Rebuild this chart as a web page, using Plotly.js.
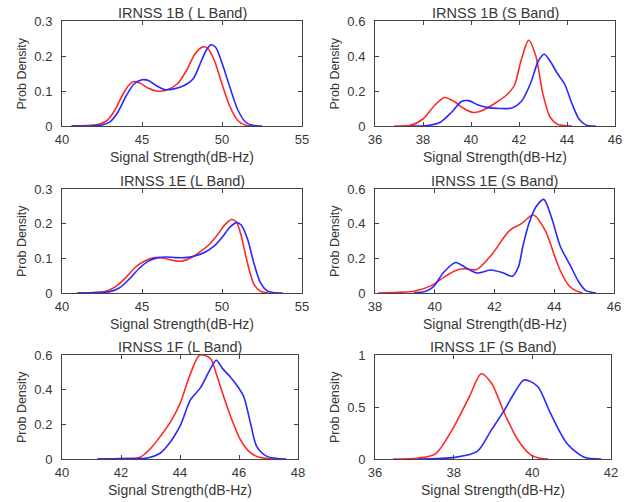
<!DOCTYPE html>
<html>
<head>
<meta charset="utf-8">
<script src="https://cdn.plot.ly/plotly-3.0.1.min.js"></script>
<style>html,body{margin:0;padding:0;background:#fff;}#chart{width:626px;height:502px;}</style>
</head>
<body>
<div id="chart"></div>
<script>
// ---- data ----
var titles = ["IRNSS 1B ( L Band)", "IRNSS 1B (S Band)", "IRNSS 1E (L Band)", "IRNSS 1E (S Band)", "IRNSS 1F (L Band)", "IRNSS 1F (S Band)"];
var xAxisTitle = "Signal Strength(dB-Hz)";
var yAxisTitle = "Prob Density";

var x1B_L_red = [40.6,41.5,42.2,42.8,43.3,43.8,44.2,44.5,44.9,45.4,45.9,46.5,47.2,47.8,48.3,48.8,49.1,49.5,50.0,50.5,51.0,51.5,52.0];
var y1B_L_red = [0,0.001,0.004,0.015,0.045,0.09,0.118,0.127,0.122,0.108,0.100,0.102,0.120,0.160,0.205,0.226,0.222,0.190,0.120,0.055,0.015,0.002,0];
var x1B_L_blue = [40.6,41.5,42.5,43.0,43.5,44.0,44.5,45.0,45.4,45.9,46.4,47.0,47.6,48.2,48.7,49.0,49.3,49.6,50.0,50.5,51.0,51.5,52.0,52.5];
var y1B_L_blue = [0,0,0.003,0.012,0.04,0.085,0.12,0.132,0.130,0.115,0.104,0.106,0.115,0.135,0.185,0.215,0.232,0.225,0.18,0.11,0.045,0.01,0.001,0];

var x1B_S_red = [36.8,37.5,38.0,38.5,38.9,39.3,39.7,40.1,40.5,41.0,41.5,41.8,42.1,42.4,42.7,43.0,43.3,43.6,44.0,44.2];
var y1B_S_red = [0,0.005,0.04,0.12,0.163,0.14,0.10,0.077,0.09,0.13,0.18,0.23,0.38,0.49,0.40,0.18,0.05,0.01,0.001,0];
var x1B_S_blue = [37.5,38.2,38.7,39.2,39.6,39.9,40.3,40.7,41.2,41.7,42.1,42.5,42.8,43.05,43.3,43.6,43.9,44.2,44.5,44.8,45.2];
var y1B_S_blue = [0,0.003,0.02,0.08,0.14,0.145,0.12,0.105,0.10,0.103,0.14,0.25,0.37,0.41,0.37,0.30,0.24,0.13,0.04,0.005,0];

var x1E_L_red = [40.9,42.0,42.8,43.4,44.0,44.6,45.2,45.8,46.4,47.0,47.5,48.0,48.6,49.2,49.7,50.2,50.6,50.9,51.2,51.6,52.0,52.4,52.9];
var y1E_L_red = [0,0.001,0.006,0.02,0.045,0.075,0.093,0.102,0.100,0.093,0.092,0.100,0.118,0.14,0.167,0.198,0.212,0.205,0.165,0.085,0.025,0.005,0];
var x1E_L_blue = [41.0,42.2,43.0,43.6,44.2,44.8,45.4,46.0,46.5,47.1,47.7,48.3,48.9,49.5,50.0,50.5,50.9,51.2,51.6,52.0,52.4,52.8,53.2,53.8];
var y1E_L_blue = [0,0.001,0.004,0.015,0.04,0.07,0.092,0.102,0.104,0.102,0.102,0.107,0.117,0.135,0.16,0.19,0.203,0.196,0.155,0.085,0.03,0.007,0.001,0];

var x1E_S_red = [38.1,38.8,39.3,39.9,40.3,40.7,41.0,41.4,41.9,42.5,42.9,43.3,43.7,44.0,44.2,44.5,44.7,44.95];
var y1E_S_red = [0,0.004,0.01,0.044,0.09,0.13,0.14,0.135,0.22,0.36,0.40,0.45,0.36,0.22,0.13,0.04,0.015,0];
var x1E_S_blue = [39.3,39.7,39.95,40.3,40.7,41.0,41.4,41.9,42.3,42.6,42.8,42.95,43.15,43.4,43.65,43.9,44.2,44.55,44.8,45.05,45.4];
var y1E_S_blue = [0,0.01,0.035,0.12,0.176,0.15,0.116,0.133,0.115,0.097,0.15,0.27,0.40,0.5,0.54,0.44,0.27,0.155,0.07,0.015,0];

var x1F_L_red = [41.2,42.0,42.65,43.0,43.33,43.7,44.0,44.35,44.67,45.03,45.25,45.48,45.75,46.05,46.3,46.6,47.17];
var y1F_L_red = [0,0.002,0.01,0.06,0.13,0.22,0.32,0.49,0.60,0.58,0.48,0.36,0.23,0.11,0.05,0.015,0];
var x1F_L_blue = [41.2,42.2,42.9,43.3,43.56,44.0,44.35,44.69,45.0,45.23,45.45,45.7,45.95,46.16,46.4,46.6,46.95,47.6];
var y1F_L_blue = [0,0.002,0.006,0.03,0.073,0.19,0.34,0.41,0.51,0.57,0.52,0.475,0.42,0.36,0.2,0.073,0.015,0];

var x1F_S_red = [36.46,37.1,37.54,37.96,38.4,38.7,38.96,39.29,39.63,39.96,40.2,40.4];
var y1F_S_red = [0,0.01,0.05,0.28,0.6,0.82,0.73,0.44,0.185,0.04,0.008,0];
var x1F_S_blue = [37.1,38.04,38.6,38.96,39.29,39.55,39.79,40.13,40.46,40.88,41.3,41.75];
var y1F_S_blue = [0,0.016,0.073,0.28,0.47,0.64,0.76,0.70,0.44,0.15,0.02,0];

var xRanges = [[40,55],[36,46],[40,55],[38,46],[40,48],[36,42]];
var xTickStep = [5,2,5,2,2,2];
var yRanges = [[0,0.3],[0,0.6],[0,0.3],[0,0.6],[0,0.6],[0,1]];
var yTickStep = [0.1,0.2,0.1,0.2,0.2,0.5];

// ---- build ----
var series = [
  [x1B_L_red,y1B_L_red,x1B_L_blue,y1B_L_blue],
  [x1B_S_red,y1B_S_red,x1B_S_blue,y1B_S_blue],
  [x1E_L_red,y1E_L_red,x1E_L_blue,y1E_L_blue],
  [x1E_S_red,y1E_S_red,x1E_S_blue,y1E_S_blue],
  [x1F_L_red,y1F_L_red,x1F_L_blue,y1F_L_blue],
  [x1F_S_red,y1F_S_red,x1F_S_blue,y1F_S_blue]
];

var W = 626, H = 502;
// plot boxes in pixels [left, right, top, bottom]
var boxes = [
  [62,302,21,126],[375,615,21,126],
  [62,302,189,293],[375,614,189,293],
  [62,298,355,459],[375,611,355,459]
];

var txtColor = '#383838';
var fam = 'Liberation Sans, Arial, sans-serif';
var data = [];
var layout = {
  width:W, height:H, margin:{l:0,r:0,t:0,b:0},
  paper_bgcolor:'#ffffff', plot_bgcolor:'#ffffff',
  showlegend:false, font:{family:fam, size:13, color:txtColor}, annotations:[]
};

for (var i=0;i<6;i++){
  var n = i+1;
  var xa = 'x'+(n===1?'':n), ya = 'y'+(n===1?'':n);
  var s = series[i];
  data.push({x:s[0], y:s[1], xaxis:xa, yaxis:ya, type:'scatter', mode:'lines',
    line:{color:'rgb(255,40,40)', width:1.6, shape:'spline', smoothing:0.8}, hoverinfo:'skip'});
  data.push({x:s[2], y:s[3], xaxis:xa, yaxis:ya, type:'scatter', mode:'lines',
    line:{color:'rgb(40,40,255)', width:1.6, shape:'spline', smoothing:0.8}, hoverinfo:'skip'});
  var b = boxes[i];
  var xd = [b[0]/W, b[1]/W], yd = [1-b[3]/H, 1-b[2]/H];
  var axCommon = {showline:true, linecolor:'#444444', linewidth:1, mirror:'ticks',
    ticks:'inside', ticklen:4, tickcolor:'#444444', showgrid:false, zeroline:false,
    tickfont:{family:fam, size:13, color:txtColor}, fixedrange:true};
  layout['xaxis'+(n===1?'':n)] = Object.assign({}, axCommon, {
    domain:xd, range:xRanges[i], tick0:xRanges[i][0], dtick:xTickStep[i],
    anchor:ya, ticklabelstandoff:1});
  layout['yaxis'+(n===1?'':n)] = Object.assign({}, axCommon, {
    domain:yd, range:yRanges[i], tick0:0, dtick:yTickStep[i],
    anchor:xa, ticklabelstandoff:6});
  var cx = (b[0]+b[1])/2/W;
  layout.annotations.push({text:titles[i], xref:'paper', yref:'paper', x:cx, y:1-(b[2]-8)/H,
    xanchor:'center', yanchor:'middle', showarrow:false, font:{family:fam,size:14.5,color:txtColor}});
  layout.annotations.push({text:xAxisTitle, xref:'paper', yref:'paper', x:cx, y:1-(b[3]+31)/H,
    xanchor:'center', yanchor:'middle', showarrow:false, font:{family:fam,size:14,color:txtColor}});
  layout.annotations.push({text:yAxisTitle, xref:'paper', yref:'paper', x:(b[0]-40)/W, y:1-((b[2]+b[3])/2)/H,
    xanchor:'center', yanchor:'middle', textangle:-90, showarrow:false, font:{family:fam,size:12.5,color:txtColor}});
}

Plotly.newPlot('chart', data, layout, {staticPlot:true, displayModeBar:false});
</script>
</body>
</html>
